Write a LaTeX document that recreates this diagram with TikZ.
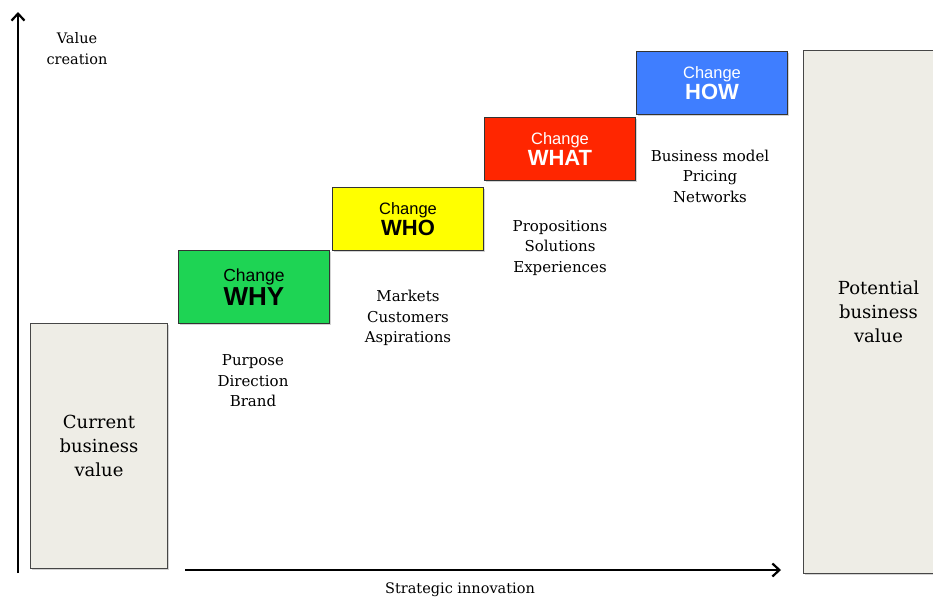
\documentclass[tikz,border=0pt]{standalone}
\usepackage{fontspec}
\setmainfont{DejaVu Serif}
\setsansfont{Liberation Sans}
\usepackage{tikz}
\usepackage{xcolor}
\usetikzlibrary{arrows.meta,shadows,positioning}
\definecolor{whygreen}{RGB}{30, 212, 84}
\definecolor{whoyellow}{RGB}{255, 255, 0}
\definecolor{whatred}{RGB}{255, 38, 0}
\definecolor{howblue}{RGB}{63, 126, 255}
\definecolor{valuegray}{RGB}{238, 237, 230}
\definecolor{edgegray}{RGB}{70, 70, 70}
\tikzset{
    stepbox/.style={draw=black!80, line width=1pt, anchor=north west, minimum width=151pt,
        minimum height=63pt, align=center, inner sep=0pt, font=\sffamily,
        drop shadow={opacity=0.35, shadow xshift=1.2pt, shadow yshift=-1.2pt}},
    valuebox/.style={draw=edgegray, line width=1pt, fill=valuegray, anchor=north west,
        align=center, inner sep=0pt, font=\fontsize{18}{24}\selectfont,
        drop shadow={opacity=0.35, shadow xshift=1.2pt, shadow yshift=-1.2pt}},
    steplist/.style={align=center, font=\fontsize{15}{20.5}\selectfont},
    axis/.style={line width=2.4pt, -{Straight Barb[length=7pt, width=13pt, line width=2.2pt]}}
}
\newcommand{\stepword}[3]{{\fontsize{#1}{20}\selectfont Change}\\[1pt]{\fontsize{#2}{#2}\selectfont\bfseries #3}}

\begin{document}
\begin{tikzpicture}[x=1pt, y=-1pt]
    \useasboundingbox (0,0) rectangle (933,597);
    \clip (0,0) rectangle (933,597);

    % axes
    \coordinate (origin) at (18,573);
    \coordinate (ytop) at (18,12);
    \coordinate (xstart) at (185,570);
    \coordinate (xend) at (781,570);
    \draw[axis] (origin) -- (ytop);
    \draw[axis] (xstart) -- (xend);
    \node[align=center, font=\fontsize{14.5}{21}\selectfont] (ylabel) at (77,49) {Value\\creation};
    \node[font=\fontsize{14.5}{18}\selectfont] (xlabel) at (460,590) {Strategic innovation};

    % business value
    \node[valuebox, minimum width=137pt, minimum height=245pt] (current) at (30,323) {Current\\business\\value};
    \node[valuebox, minimum width=150pt, minimum height=523pt] (potential) at (803,50) {Potential\\business\\value};

    % steps
    \node[stepbox, fill=whygreen, minimum height=73pt] (why) at (178,250) {\stepword{17.5}{26}{WHY}};
    \node[stepbox, fill=whoyellow] (who) at (332,187) {\stepword{16.5}{22}{WHO}};
    \node[stepbox, fill=whatred, text=white] (what) at (484,117) {\stepword{16.5}{22}{WHAT}};
    \node[stepbox, fill=howblue, text=white] (how) at (636,51) {\stepword{16.5}{22}{HOW}};

    \node[steplist] (whylist) at (253,381) {Purpose\\Direction\\Brand};
    \node[steplist] (wholist) at (408,318) {Markets\\Customers\\Aspirations};
    \node[steplist] (whatlist) at (560,248) {Propositions\\Solutions\\Experiences};
    \node[steplist] (howlist) at (710,176) {Business model\\Pricing\\Networks};
\end{tikzpicture}
\end{document}
